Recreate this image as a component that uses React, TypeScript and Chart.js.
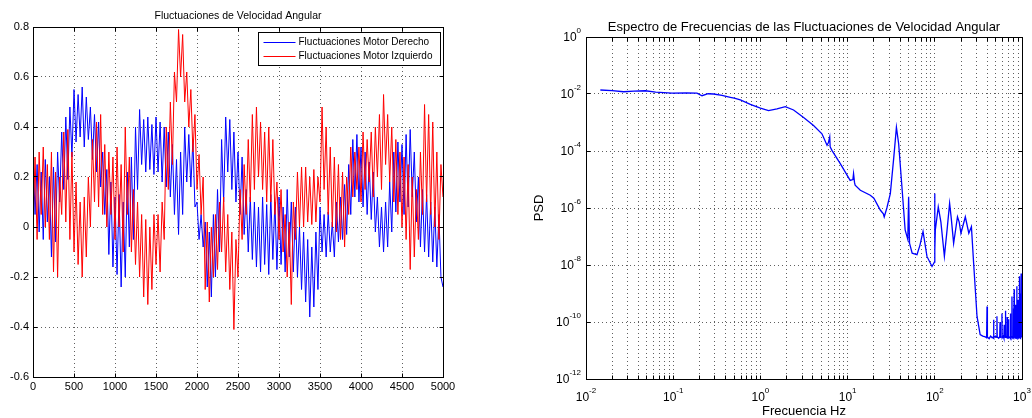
import React, { useEffect, useRef } from 'react';
import { Chart, registerables } from 'chart.js';

Chart.register(...registerables);

const FONT = "'Liberation Sans', Arial, Helvetica, sans-serif";

// ---------- Left chart: angular velocity fluctuations ----------
const SAMPLE_STEP = 25; // samples between successive read-off points
const timeTicks = [0, 500, 1000, 1500, 2000, 2500, 3000, 3500, 4000, 4500, 5000];
const timeTickLabels = ['0', '500', '1000', '1500', '2000', '2500', '3000', '3500', '4000', '4500', '5000'];
const velocityTicks = [-0.6, -0.4, -0.2, 0, 0.2, 0.4, 0.6, 0.8];
const velocityTickLabels = ['-0.6', '-0.4', '-0.2', '0', '0.2', '0.4', '0.6', '0.8'];

const motorDerecho = [
  0.30, 0.05, 0.25, -0.02, 0.22, -0.05, 0.27, 0.02, 0.20, -0.12, 0.24, -0.06,
  0.30, 0.10, 0.38, 0.15, 0.44, 0.19, 0.48, 0.28, 0.55, 0.34, 0.53, 0.36,
  0.56, 0.32, 0.52, 0.35, 0.48, 0.27, 0.45, 0.22, 0.42, 0.16, 0.30, 0.05,
  0.23, -0.11, 0.18, -0.16, 0.12, -0.19, 0.13, -0.24, 0.10, -0.20, 0.22, -0.08,
  0.28, -0.05, 0.40, 0.15, 0.47, 0.25, 0.43, 0.22, 0.44, 0.23, 0.41, 0.21,
  0.44, 0.22, 0.42, 0.18, 0.40, 0.16, 0.38, 0.12, 0.33, 0.05, 0.27, -0.03,
  0.30, 0.05, 0.40, 0.18, 0.37, 0.16, 0.35, 0.08, 0.10, -0.05, 0.05, -0.08,
  0.02, -0.24, -0.02, -0.28, 0.05, -0.20, 0.15, -0.10, 0.35, 0.10, 0.44, 0.22,
  0.43, 0.15, 0.38, 0.10, 0.30, 0.05, 0.28, -0.03, 0.15, -0.10, 0.12, -0.13,
  0.10, -0.16, 0.08, -0.18, 0.12, -0.15, 0.09, -0.19, 0.13, -0.13, 0.10, -0.17,
  0.12, -0.15, 0.08, -0.18, 0.15, -0.12, 0.10, -0.18, 0.08, -0.20, 0.00, -0.25,
  -0.02, -0.30, -0.05, -0.36, -0.08, -0.32, -0.02, -0.25, 0.08, -0.10, 0.05, -0.12,
  0.06, -0.10, 0.02, -0.12, 0.10, -0.06, 0.12, -0.05, 0.17, -0.03, 0.25, 0.05,
  0.35, 0.12, 0.37, 0.10, 0.32, 0.08, 0.30, 0.05, 0.26, 0.03, 0.22, -0.02,
  0.12, -0.08, 0.08, -0.10, 0.10, -0.08, 0.18, -0.02, 0.30, 0.06, 0.34, 0.10,
  0.33, 0.05, 0.37, 0.08, 0.39, 0.12, 0.30, 0.02, 0.20, -0.08, 0.15, -0.10,
  0.13, -0.12, 0.10, -0.14, 0.08, -0.16, 0.05, -0.20, -0.24,
];

const motorIzquierdo = [
  0.00, 0.28, -0.05, 0.30, 0.05, 0.32, 0.00, 0.25, -0.05, 0.30, -0.18, 0.22,
  -0.20, 0.20, 0.05, 0.38, 0.02, 0.39, -0.05, 0.30, -0.10, 0.18, -0.15, 0.10,
  -0.20, 0.12, -0.12, 0.20, 0.00, 0.35, 0.10, 0.42, 0.08, 0.45, 0.05, 0.33,
  0.00, 0.30, 0.05, 0.28, -0.05, 0.32, 0.00, 0.25, -0.10, 0.40, 0.05, 0.28,
  -0.10, 0.15, -0.15, 0.10, -0.20, 0.05, -0.28, 0.03, -0.31, 0.00, -0.25, 0.05,
  -0.15, 0.05, -0.18, 0.10, -0.05, 0.40, 0.15, 0.50, 0.25, 0.62, 0.50, 0.79,
  0.60, 0.77, 0.50, 0.62, 0.40, 0.55, 0.30, 0.45, 0.15, 0.29, 0.05, 0.20,
  -0.25, 0.02, -0.30, 0.00, -0.20, 0.05, -0.17, 0.10, -0.10, 0.12, -0.18, 0.05,
  -0.25, -0.02, -0.41, -0.05, -0.20, 0.15, -0.05, 0.25, 0.05, 0.35, 0.10, 0.45,
  0.15, 0.48, 0.20, 0.42, 0.15, 0.38, 0.10, 0.40, 0.10, 0.35, 0.05, 0.18,
  -0.05, 0.15, -0.10, 0.05, -0.20, 0.02, -0.31, 0.10, -0.05, 0.22, 0.00, 0.24,
  0.00, 0.24, 0.02, 0.20, 0.01, 0.23, 0.02, 0.20, 0.10, 0.48, 0.15, 0.40,
  0.05, 0.32, 0.00, 0.28, -0.02, 0.25, -0.05, 0.22, -0.08, 0.20, 0.05, 0.32,
  0.12, 0.30, 0.15, 0.32, 0.10, 0.38, 0.15, 0.35, 0.18, 0.38, 0.12, 0.40,
  0.20, 0.45, 0.15, 0.53, 0.25, 0.45, 0.18, 0.40, 0.10, 0.35, 0.05, 0.30,
  0.00, 0.28, -0.05, 0.25, -0.17, 0.20, -0.12, 0.15, -0.05, 0.30, 0.05, 0.49,
  0.10, 0.45, 0.05, 0.42, 0.00, 0.30, -0.05, 0.25, 0.12,
];

// ---------- Right chart: power spectral density ----------
const psdFreqHz = [
  0.0146, 0.02, 0.027, 0.0355, 0.0479, 0.063, 0.0968, 0.141, 0.1875, 0.214,
  0.251, 0.291, 0.363, 0.452, 0.501, 0.589, 0.767, 1.0, 1.24, 1.55,
  1.93, 2.4, 3.13, 4.07, 5.08, 5.81, 6.03, 6.24, 6.31, 6.61,
  8.24, 10.7, 11.5, 11.7, 12.0, 12.2, 14.0, 18.2, 20.0, 23.7,
  25.7, 26.3, 28.2, 30.9, 33.9, 36.3, 38.5, 41.7, 45.7, 49.0,
  50.1, 51.3, 55.0, 62.5, 67.6, 73.3, 77.6, 81.3, 92.9, 98.9,
  99.5, 100.5, 101.4, 109.6, 117.5, 128.8, 138.0, 147.9, 154.9, 164.4,
  182.0, 190.5, 199.5, 223.9, 245.5, 263.0, 278.6, 304.8, 331.1, 354.8,
  380.2, 393, 397, 401, 420, 436.5, 455, 468, 472, 476,
  495, 512, 516, 520, 540, 555, 560, 565, 585, 589,
  593, 610, 620, 625, 630, 642, 646, 650, 672, 676,
  680, 697, 701, 705, 720, 733, 737, 741, 762, 767,
  772, 790, 794, 798, 808, 813, 818, 836, 841, 846,
  866, 871, 876, 897, 902, 907, 928, 933, 938, 950,
  955, 960, 972, 977, 982, 1000,
];
const psdValues = [
  1.38e-2, 1.32e-2, 1.20e-2, 1.26e-2, 1.30e-2, 1.17e-2, 1.07e-2, 1.10e-2, 1.07e-2, 8.7e-3,
  1.02e-2, 1.0e-2, 8.9e-3, 7.6e-3, 7.1e-3, 6.2e-3, 4.3e-3, 3.2e-3, 2.6e-3, 3.0e-3,
  3.6e-3, 2.75e-3, 1.5e-3, 7.8e-4, 4.0e-4, 1.6e-4, 2.0e-4, 3.1e-4, 1.4e-4, 1.05e-4,
  3.6e-5, 9.3e-6, 1.0e-5, 1.6e-5, 7.9e-6, 6.3e-6, 4.2e-6, 2.8e-6, 2.2e-6, 8.5e-7,
  6.3e-7, 4.9e-7, 1.0e-6, 3.2e-6, 6.2e-5, 6.8e-4, 1.8e-4, 7.2e-6, 1.7e-7, 7.9e-8,
  2.5e-6, 5.8e-8, 2.6e-8, 2.3e-8, 5.0e-8, 1.5e-7, 5.0e-8, 2.0e-8, 8.9e-9, 1.26e-8,
  3.2e-6, 3.2e-8, 1.7e-7, 1.1e-6, 3.2e-7, 2.0e-8, 1.6e-7, 1.45e-6, 4.0e-7, 5.8e-8,
  4.9e-7, 3.2e-7, 1.3e-7, 4.9e-7, 1.3e-7, 2.2e-7, 1.2e-8, 1.6e-10, 3.6e-11, 3.2e-11,
  3.0e-11, 2.8e-11, 3.5e-10, 3.0e-11, 2.6e-11, 3.2e-11, 2.8e-11, 3.0e-11, 1.2e-10, 2.8e-11,
  3.2e-11, 2.9e-11, 1.6e-10, 3.0e-11, 2.7e-11, 3.1e-11, 1.0e-10, 2.9e-11, 3.0e-11, 2.0e-10,
  2.8e-11, 3.2e-11, 2.7e-11, 8.0e-11, 3.0e-11, 2.9e-11, 2.5e-10, 3.1e-11, 2.8e-11, 1.5e-10,
  3.0e-11, 2.7e-11, 1.26e-10, 3.1e-11, 2.9e-11, 3.0e-11, 2.0e-10, 2.8e-11, 3.1e-11, 7.9e-10,
  2.7e-11, 3.0e-11, 3.0e-10, 2.9e-11, 2.8e-11, 1.4e-9, 3.1e-11, 2.7e-11, 4.0e-10, 3.0e-11,
  2.9e-11, 1.8e-9, 2.8e-11, 3.1e-11, 6.0e-10, 2.7e-11, 3.0e-11, 4.0e-9, 2.9e-11, 2.8e-11,
  1.0e-9, 3.0e-11, 2.7e-11, 5.0e-9, 3.1e-11, 2.9e-11,
];

const psdDecades = [1e-2, 1e-1, 1, 10, 100, 1000];
const psdDecadeExponents = ['-2', '-1', '0', '1', '2', '3'];
const psdMinorSteps = [2, 3, 4, 5, 6, 7, 8, 9];
const psdYTicks = [1e-12, 1e-10, 1e-8, 1e-6, 1e-4, 1e-2, 1];
const psdYTickExponents = ['-12', '-10', '-8', '-6', '-4', '-2', '0'];

// x grid positions (decades + minor multiples)
const psdXGrid: number[] = [];
psdDecades.forEach((d, i) => {
  psdXGrid.push(d);
  if (i < psdDecades.length - 1) psdMinorSteps.forEach((m) => psdXGrid.push(d * m));
});

const align = (p: number) => Math.round(p - 0.5) + 0.5;

const framePlugin = {
  id: 'matlabFrame',
  afterDraw(chart: any) {
    const { ctx, chartArea: a, scales } = chart;
    const L = align(a.left), R = align(a.right), T = align(a.top), B = align(a.bottom);
    ctx.save();
    ctx.strokeStyle = '#000';
    ctx.lineWidth = 1;
    ctx.setLineDash([]);
    ctx.beginPath();
    for (const t of scales.x.ticks) {
      const x = align(scales.x.getPixelForValue(t.value));
      ctx.moveTo(x, B); ctx.lineTo(x, B - 4);
      ctx.moveTo(x, T); ctx.lineTo(x, T + 4);
    }
    for (const t of scales.y.ticks) {
      const y = align(scales.y.getPixelForValue(t.value));
      ctx.moveTo(L, y); ctx.lineTo(L + 4, y);
      ctx.moveTo(R, y); ctx.lineTo(R - 4, y);
    }
    ctx.stroke();
    ctx.strokeRect(L, T, R - L, B - T);
    ctx.restore();
  },
};

const legendBoxPlugin = {
  id: 'legendBox',
  afterDraw(chart: any) {
    const { ctx, chartArea: a } = chart;
    const ds = chart.data.datasets;
    ctx.save();
    ctx.font = `10px ${FONT}`;
    const textW = Math.max(...ds.map((d: any) => ctx.measureText(d.label).width));
    const lineLen = 32;
    const boxW = Math.round(5 + lineLen + 3 + textW + 8);
    const boxH = 33;
    const right = align(a.right - 3);
    const left = right - boxW;
    const top = align(a.top + 5);
    ctx.fillStyle = '#fff';
    ctx.fillRect(left, top, boxW, boxH);
    ctx.strokeStyle = '#000';
    ctx.lineWidth = 1;
    ctx.strokeRect(left, top, boxW, boxH);
    ds.forEach((d: any, i: number) => {
      const y = Math.round(top + 9.5 + i * 14.3) + 0.5;
      ctx.strokeStyle = d.borderColor;
      ctx.beginPath();
      ctx.moveTo(left + 5, y);
      ctx.lineTo(left + 5 + lineLen, y);
      ctx.stroke();
      ctx.fillStyle = '#000';
      ctx.textBaseline = 'middle';
      ctx.textAlign = 'left';
      ctx.fillText(d.label, left + 5 + lineLen + 3, y);
    });
    ctx.restore();
  },
};

// draws "10" with a raised exponent, MATLAB style
function drawPower(ctx: CanvasRenderingContext2D, exp: string, x: number, y: number, mode: 'center' | 'right') {
  ctx.font = `12px ${FONT}`;
  const wb = ctx.measureText('10').width;
  ctx.font = `8px ${FONT}`;
  const we = ctx.measureText(exp).width;
  const total = wb + we;
  const x0 = mode === 'center' ? x - total / 2 : x - total;
  ctx.font = `12px ${FONT}`;
  ctx.fillText('10', x0, y);
  ctx.font = `8px ${FONT}`;
  ctx.fillText(exp, x0 + wb, y - 7);
}

const logLabelPlugin = {
  id: 'logLabels',
  afterDraw(chart: any) {
    const { ctx, chartArea: a, scales } = chart;
    ctx.save();
    ctx.fillStyle = '#000';
    ctx.textBaseline = 'middle';
    ctx.textAlign = 'left';
    psdDecades.forEach((v, i) => {
      drawPower(ctx, psdDecadeExponents[i], scales.x.getPixelForValue(v), a.bottom + 18.5, 'center');
    });
    psdYTicks.forEach((v, i) => {
      drawPower(ctx, psdYTickExponents[i], a.left - 5, scales.y.getPixelForValue(v) + 0.5, 'right');
    });
    ctx.restore();
  },
};

const gridStyle = { color: '#606060', drawTicks: false, lineWidth: 1 };
const borderStyle = { display: false, dash: [1, 3] };

function leftConfig(): any {
  return {
    type: 'line',
    data: {
      datasets: [
        {
          label: 'Fluctuaciones Motor Derecho',
          data: motorDerecho.map((v, i) => ({ x: i * SAMPLE_STEP, y: v })),
          borderColor: '#0000ff',
          borderWidth: 1,
          pointRadius: 0,
          tension: 0,
          order: 2,
        },
        {
          label: 'Fluctuaciones Motor Izquierdo',
          data: motorIzquierdo.map((v, i) => ({ x: i * SAMPLE_STEP, y: v })),
          borderColor: '#ff0000',
          borderWidth: 1,
          pointRadius: 0,
          tension: 0,
          order: 1,
        },
      ],
    },
    options: {
      responsive: false,
      animation: false,
      devicePixelRatio: 1,
      layout: { padding: { left: 0, right: 77, top: 0, bottom: 0 } },
      plugins: {
        legend: { display: false },
        tooltip: { enabled: false },
        title: {
          display: true,
          fullSize: false,
          text: 'Fluctuaciones de Velocidad Angular',
          color: '#000',
          font: { family: FONT, size: 10.5, weight: 'normal' },
          padding: { top: 10, bottom: 4.4 },
        },
      },
      scales: {
        x: {
          type: 'linear',
          min: 0,
          max: 5000,
          afterBuildTicks: (s: any) => { s.ticks = timeTicks.map((v) => ({ value: v })); },
          afterFit: (s: any) => { s.height = 41; },
          ticks: {
            autoSkip: false,
            maxRotation: 0,
            minRotation: 0,
            padding: 3,
            color: '#000',
            font: { family: FONT, size: 11 },
            callback: (_v: any, i: number) => timeTickLabels[i],
          },
          grid: gridStyle,
          border: borderStyle,
        },
        y: {
          type: 'linear',
          min: -0.6,
          max: 0.8,
          afterBuildTicks: (s: any) => { s.ticks = velocityTicks.map((v) => ({ value: v })); },
          afterFit: (s: any) => { s.width = 33; },
          ticks: {
            autoSkip: false,
            padding: 4,
            color: '#000',
            font: { family: FONT, size: 11 },
            callback: (_v: any, i: number) => velocityTickLabels[i],
          },
          grid: gridStyle,
          border: borderStyle,
        },
      },
    },
    plugins: [framePlugin, legendBoxPlugin],
  };
}

function rightConfig(): any {
  return {
    type: 'line',
    data: {
      datasets: [
        {
          label: 'PSD',
          data: psdFreqHz.map((f, i) => ({ x: f, y: psdValues[i] })),
          borderColor: '#0000ff',
          borderWidth: 1.3,
          pointRadius: 0,
          tension: 0,
        },
      ],
    },
    options: {
      responsive: false,
      animation: false,
      devicePixelRatio: 1,
      layout: { padding: { left: 0, right: 10, top: 0, bottom: 0 } },
      plugins: {
        legend: { display: false },
        tooltip: { enabled: false },
        title: {
          display: true,
          fullSize: false,
          text: 'Espectro de Frecuencias de las Fluctuaciones de Velocidad Angular',
          color: '#000',
          font: { family: FONT, size: 13, weight: 'normal' },
          padding: { top: 20, bottom: 1.4 },
        },
      },
      scales: {
        x: {
          type: 'logarithmic',
          min: 1e-2,
          max: 1e3,
          afterBuildTicks: (s: any) => { s.ticks = psdXGrid.map((v) => ({ value: v })); },
          afterFit: (s: any) => { s.height = 39; },
          ticks: { display: false, autoSkip: false, maxRotation: 0, minRotation: 0 },
          title: {
            display: true,
            text: 'Frecuencia Hz',
            color: '#000',
            font: { family: FONT, size: 13, lineHeight: 1.0 },
            padding: { top: 0, bottom: 0 },
          },
          grid: gridStyle,
          border: borderStyle,
        },
        y: {
          type: 'logarithmic',
          min: 1e-12,
          max: 1,
          afterBuildTicks: (s: any) => { s.ticks = psdYTicks.map((v) => ({ value: v })); },
          afterFit: (s: any) => { s.width = 66; },
          ticks: { display: false, autoSkip: false },
          title: {
            display: true,
            text: 'PSD',
            color: '#000',
            font: { family: FONT, size: 13, lineHeight: 1.2 },
            padding: { top: 12, bottom: 0 },
          },
          grid: gridStyle,
          border: borderStyle,
        },
      },
    },
    plugins: [framePlugin, logLabelPlugin],
  };
}

export default function App() {
  const leftRef = useRef<HTMLCanvasElement>(null);
  const rightRef = useRef<HTMLCanvasElement>(null);

  useEffect(() => {
    const c1 = new Chart(leftRef.current as HTMLCanvasElement, leftConfig());
    const c2 = new Chart(rightRef.current as HTMLCanvasElement, rightConfig());
    return () => {
      c1.destroy();
      c2.destroy();
    };
  }, []);

  return (
    <div style={{ position: 'absolute', left: 0, top: 0, width: 1032, height: 418, background: '#fff', overflow: 'hidden' }}>
      <canvas ref={leftRef} width={520} height={418} style={{ position: 'absolute', left: 0, top: 0 }} />
      <canvas ref={rightRef} width={512} height={418} style={{ position: 'absolute', left: 520, top: 0 }} />
    </div>
  );
}
